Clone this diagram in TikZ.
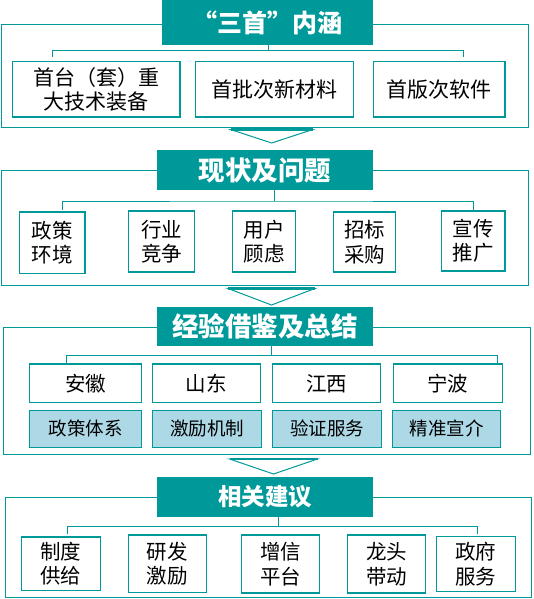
\documentclass[tikz,border=0pt]{standalone}
\usepackage{fontspec}
\setmainfont{Noto Sans CJK SC}
\definecolor{tealc}{RGB}{0,153,153}
\definecolor{lblue}{RGB}{173,216,230}
\tikzset{
 frame/.style={draw=tealc, line width=1pt},
 conn/.style={draw=tealc, line width=1pt},
 ttl/.style={fill=tealc, text=white, inner sep=0pt, font=\bfseries\fontsize{26.5}{30}\selectfont},
 cbox/.style={draw=tealc, line width=1.2pt, fill=white, inner sep=0pt, align=center, font=\fontsize{20.5}{24.5}\selectfont},
 bbox/.style={cbox, fill=lblue, font=\fontsize{18.5}{22}\selectfont},
 chevline/.style={draw=tealc, line width=1pt, fill=white, line join=miter},
}
\newcommand\bx[7]{\node[#1, minimum width={(#4-#2)*1pt}, minimum height={(#5-#3)*1pt}] (#6) at ({(#2+#4)/2},{-(#3+#5)/2}) {#7};}
\newcommand\chevron[5]{%
 \coordinate (#1a) at (#2,-#4); \coordinate (#1b) at (#3,-#4); \coordinate (#1c) at ({(#2+#3)/2},-#5);
 \draw[chevline] (#1a) -- (#1c) -- (#1b) -- cycle;
 \draw[tealc, line width=2.5pt] (#1a) -- (#1b);}
\begin{document}
\begin{tikzpicture}[x=1pt,y=1pt]
\useasboundingbox (0,0) rectangle (533,-599);
% ---------- Section 1
\draw[frame] (1,-24.7) rectangle (528,-127);
\bx{ttl, font=\bfseries\fontsize{25}{30}\selectfont}{162}{0}{373}{45}{t1}{“三首”内涵}
\bx{cbox, font=\fontsize{21}{24.5}\selectfont}{12.5}{61.7}{180}{117}{a1}{首台（套）重\\大技术装备}
\bx{cbox, font=\fontsize{21}{24.5}\selectfont}{195.5}{61.7}{353.6}{117}{a2}{首批次新材料}
\bx{cbox, font=\fontsize{21}{24.5}\selectfont}{373.3}{61.7}{505}{117}{a3}{首版次软件}
\coordinate (j1) at (268.3,-50.7);
\coordinate (l1) at (52.5,-57);
\coordinate (r1) at (463.7,-57);
\draw[conn] (t1.south -| j1) -- (j1);
\draw[conn] (l1) |- (j1) -| (r1);
\chevron{ch1}{230.5}{312.8}{129.5}{143}
% ---------- Section 2
\draw[frame] (1,-170) rectangle (528.7,-285.7);
\bx{ttl}{157}{150}{373}{190}{t2}{现状及问题}
\bx{cbox}{19.4}{212}{85}{273.3}{b1}{政策\\环境}
\bx{cbox}{128.5}{211}{194.5}{272}{b2}{行业\\竞争}
\bx{cbox}{232.6}{211}{295.8}{272}{b3}{用户\\顾虑}
\bx{cbox}{333.5}{212}{395.8}{272}{b4}{招标\\采购}
\bx{cbox}{441.3}{211}{505}{271}{b5}{宣传\\推广}
\coordinate (j2) at (274.7,-201);
\coordinate (l2) at (62.9,-210);
\coordinate (r2) at (473.3,-210);
\draw[conn] (t2.south -| j2) -- (j2);
\draw[conn] (l2) |- (j2) -| (r2);
\chevron{ch2}{228}{315}{288.5}{305}
% ---------- Section 3
\draw[frame] (3.4,-327.7) rectangle (530.4,-454.3);
\bx{ttl}{157}{307.3}{373}{345.7}{t3}{经验借鉴及总结}
\bx{cbox}{29.6}{364}{141.8}{402.7}{c1}{安徽}
\bx{cbox}{152.3}{364}{260.5}{402.7}{c2}{山东}
\bx{cbox}{272.3}{364}{380.8}{402.7}{c3}{江西}
\bx{cbox}{393.4}{364}{502.5}{402.7}{c4}{宁波}
\bx{bbox}{29.6}{410.3}{141.8}{447.3}{d1}{政策体系}
\bx{bbox}{152.3}{410.3}{261.8}{447.3}{d2}{激励机制}
\bx{bbox}{272.3}{410.3}{381.8}{447.3}{d3}{验证服务}
\bx{bbox}{392.7}{410.3}{500.8}{447.3}{d4}{精准宣介}
\coordinate (j3) at (271,-355.7);
\coordinate (l3) at (66.3,-364);
\coordinate (r3) at (497,-364);
\draw[conn] (t3.south -| j3) -- (j3);
\draw[conn] (l3) |- (j3) -| (r3);
\chevron{ch3}{229.5}{317.5}{459}{474}
% ---------- Section 4
\draw[frame] (5.1,-497.5) rectangle (531,-597);
\bx{ttl, font=\bfseries\fontsize{23.5}{28}\selectfont}{157}{477.3}{373}{516.7}{t4}{相关建议}
\bx{cbox}{21.4}{537}{100.3}{590.5}{e1}{制度\\供给}
\bx{cbox}{128.5}{535}{206.4}{592.7}{e2}{研发\\激励}
\bx{cbox}{241.4}{535}{319.6}{593}{e3}{增信\\平台}
\bx{cbox}{347.5}{535}{425.7}{593}{e4}{龙头\\带动}
\bx{cbox}{436.3}{536.7}{515.5}{591.5}{e5}{政府\\服务}
\coordinate (j4) at (278.8,-526.7);
\coordinate (l4) at (67.3,-534);
\coordinate (r4) at (477.3,-534);
\draw[conn] (t4.south -| j4) -- (j4);
\draw[conn] (l4) |- (j4) -| (r4);
\end{tikzpicture}
\end{document}
